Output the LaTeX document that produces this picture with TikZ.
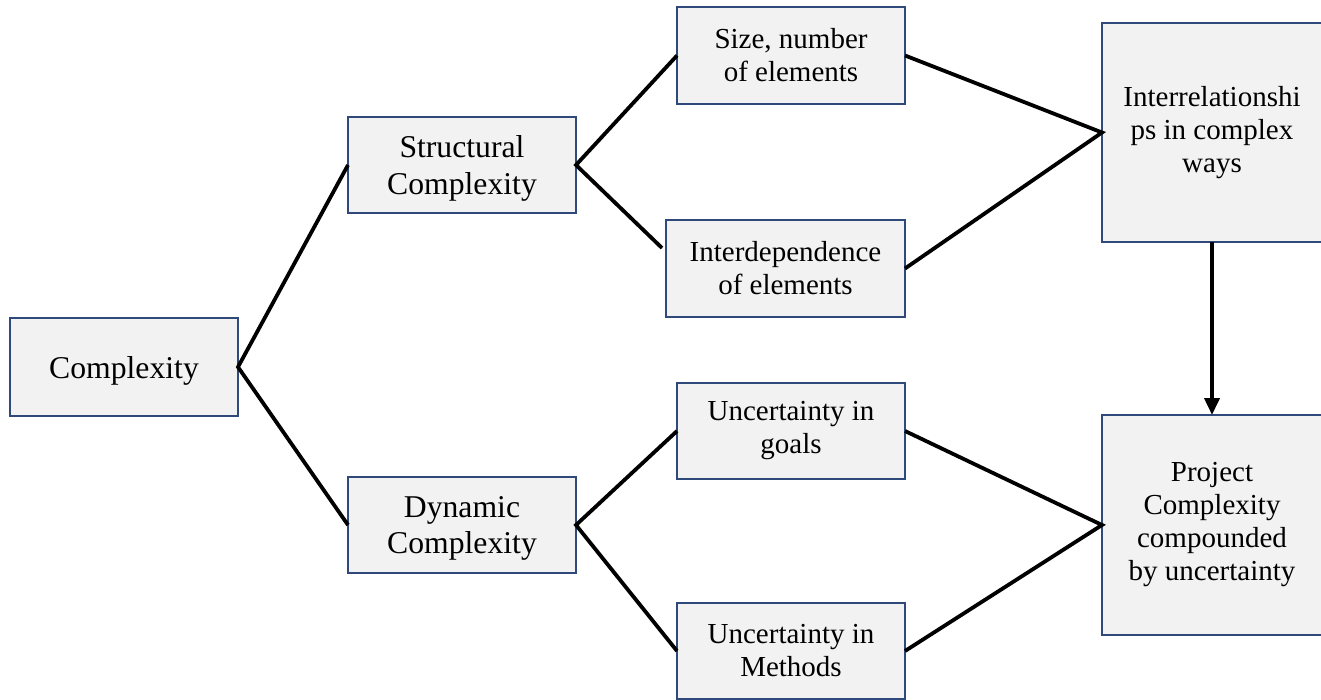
\documentclass[tikz,border=0pt]{standalone}
\usepackage{fontspec}
\setmainfont{Liberation Serif}
\usetikzlibrary{arrows.meta}
\definecolor{boxfill}{HTML}{F2F2F2}
\definecolor{boxline}{RGB}{47,74,122}
\begin{document}
\begin{tikzpicture}[x=1pt,y=-1pt,
  box/.style={draw=boxline, fill=boxfill, line width=2.8pt, rectangle,
    inner sep=0pt, outer sep=0pt, align=center,
    font=\fontsize{29}{33}\selectfont},
  bigbox/.style={box, font=\fontsize{31.7}{36.5}\selectfont, text depth=0pt},
  link/.style={draw=black, line width=3.8pt},
  flow/.style={link, -{Triangle[length=17pt,width=15pt]}}]
\useasboundingbox (0,0) rectangle (1321,699);

% boxes
\node[bigbox, minimum width=228pt, minimum height=98pt] (cx) at (124,367) {Complexity};
\node[bigbox, minimum width=228pt, minimum height=96pt] (st) at (462,165) {Structural\\Complexity};
\node[bigbox, minimum width=228pt, minimum height=96pt] (dy) at (462,525) {Dynamic\\Complexity};
\node[box, minimum width=228pt, minimum height=97pt] (sz) at (791,55.5) {Size, number\\of elements};
\node[box, minimum width=239pt, minimum height=97pt] (id) at (785.5,268.5) {Interdependence\\of elements};
\node[box, minimum width=228pt, minimum height=96pt] (go) at (791,431) {Uncertainty in\\goals};
\node[box, minimum width=228pt, minimum height=96pt] (me) at (791,651) {Uncertainty in\\Methods};
\node[box, minimum width=220pt, minimum height=219pt] (ir) at (1212,132.5) {Interrelationshi\\ps in complex\\ways};
\node[box, minimum width=220pt, minimum height=220pt] (pc) at (1212,525) {Project\\Complexity\\compounded\\by uncertainty};

\coordinate (idin) at (662,248);

% connectors
\draw[link] (st.west) -- (cx.east) -- (dy.west);
\draw[link] (sz.west) -- (st.east) -- (idin);
\draw[link] (go.west) -- (dy.east) -- (me.west);
\draw[link] (sz.east) -- (ir.west) -- (id.east);
\draw[link] (go.east) -- (pc.west) -- (me.east);
\draw[flow] (ir.south) -- (pc.north);
\end{tikzpicture}
\end{document}
